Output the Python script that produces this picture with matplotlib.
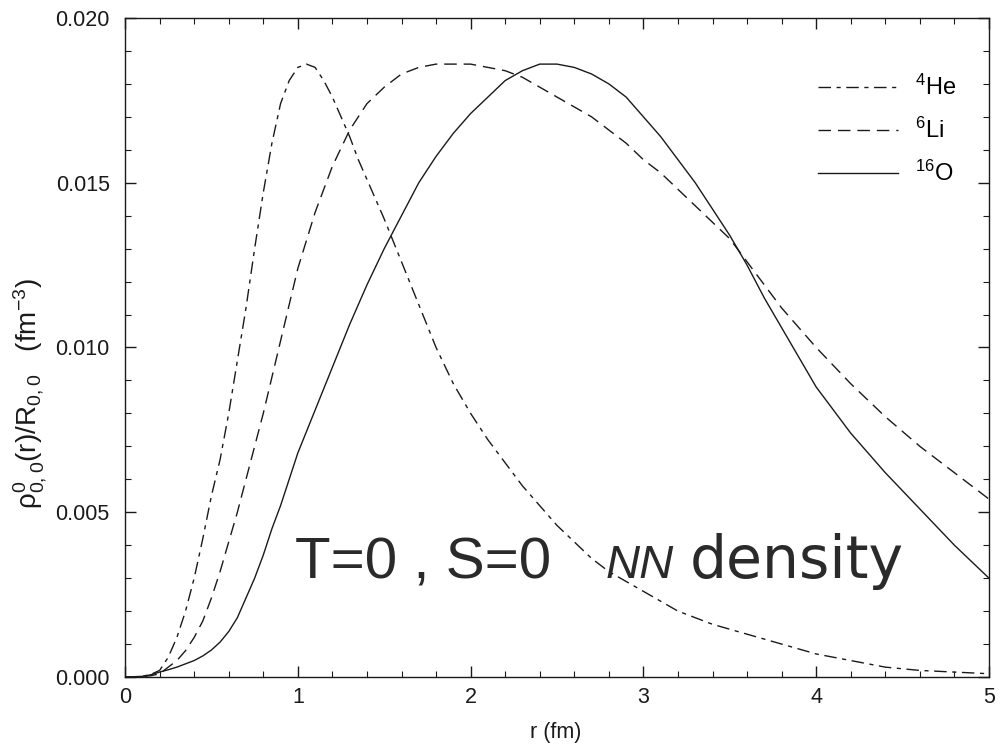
import matplotlib
matplotlib.use("Agg")
import matplotlib.pyplot as plt
from matplotlib.ticker import MultipleLocator, FormatStrFormatter

# 4He: radius (fm) and density (fm^-3)
r_he = [0.0, 0.05, 0.1, 0.15, 0.2, 0.25, 0.3, 0.35, 0.4, 0.45,
        0.5, 0.55, 0.6, 0.65, 0.7, 0.75, 0.8, 0.85, 0.9, 0.95,
        1.0, 1.05, 1.1, 1.15, 1.2, 1.25, 1.3, 1.35, 1.4, 1.45,
        1.5, 1.6, 1.7, 1.8, 1.9, 2.0, 2.1, 2.2, 2.3, 2.4,
        2.5, 2.6, 2.7, 2.8, 2.9, 3.0, 3.2, 3.4, 3.6, 3.8,
        4.0, 4.2, 4.4, 4.6, 4.8, 5.0]
he4 = [0.0, 0.0, 0.00002, 0.00008, 0.0002, 0.0006, 0.0012, 0.0020, 0.0030, 0.0042,
       0.0055, 0.0066, 0.0080, 0.0096, 0.0112, 0.0130, 0.0147, 0.0162, 0.0174, 0.0181,
       0.0185, 0.0186, 0.0185, 0.0181, 0.0176, 0.0170, 0.0164, 0.0157, 0.0151, 0.0145,
       0.0139, 0.0126, 0.0113, 0.0100, 0.0089, 0.0080, 0.0072, 0.0065, 0.0058, 0.0052,
       0.0046, 0.0041, 0.0036, 0.0032, 0.0029, 0.0026, 0.0020, 0.0016, 0.0013, 0.0010,
       0.0007, 0.0005, 0.0003, 0.0002, 0.00015, 0.0001]

# 6Li
r_li = [0.0, 0.1, 0.15, 0.2, 0.25, 0.3, 0.35, 0.4, 0.45, 0.5,
        0.55, 0.6, 0.65, 0.7, 0.75, 0.8, 0.85, 0.9, 0.95, 1.0,
        1.1, 1.2, 1.3, 1.4, 1.5, 1.6, 1.7, 1.8, 1.9, 2.0,
        2.1, 2.2, 2.3, 2.4, 2.5, 2.6, 2.7, 2.8, 2.9, 3.0,
        3.1, 3.2, 3.3, 3.4, 3.5, 3.6, 3.7, 3.8, 3.9, 4.0,
        4.2, 4.4, 4.6, 4.8, 5.0]
li6 = [0.0, 0.00001, 0.00004, 0.0001, 0.0003, 0.0005, 0.0008, 0.0012, 0.0017, 0.0024,
       0.0032, 0.0041, 0.0050, 0.0060, 0.0070, 0.0080, 0.0091, 0.0102, 0.0113, 0.0124,
       0.0141, 0.0155, 0.0166, 0.0174, 0.0179, 0.0183, 0.0185, 0.0186, 0.0186, 0.0186,
       0.0185, 0.0184, 0.0182, 0.0179, 0.0176, 0.0173, 0.0170, 0.0166, 0.0162, 0.0157,
       0.0153, 0.0148, 0.0143, 0.0138, 0.0133, 0.0126, 0.0119, 0.0112, 0.0106, 0.0100,
       0.0089, 0.0079, 0.0070, 0.0062, 0.0054]

# 16O
r_o = [0.0, 0.1, 0.15, 0.2, 0.25, 0.3, 0.35, 0.4, 0.45, 0.5,
       0.55, 0.6, 0.65, 0.7, 0.75, 0.8, 0.85, 0.9, 0.95, 1.0,
       1.1, 1.2, 1.3, 1.4, 1.5, 1.6, 1.7, 1.8, 1.9, 2.0,
       2.1, 2.2, 2.3, 2.4, 2.5, 2.6, 2.7, 2.8, 2.9, 3.0,
       3.1, 3.2, 3.3, 3.4, 3.5, 3.6, 3.7, 3.8, 3.9, 4.0,
       4.2, 4.4, 4.6, 4.8, 5.0]
o16 = [0.0, 0.00002, 0.00007, 0.00015, 0.00022, 0.0003, 0.0004, 0.0005, 0.00064, 0.00082,
       0.00106, 0.00138, 0.0018, 0.0024, 0.0030, 0.0037, 0.0045, 0.0052, 0.0060, 0.0068,
       0.0081, 0.0094, 0.0107, 0.0119, 0.0130, 0.0140, 0.0150, 0.0158, 0.0165, 0.0171,
       0.0176, 0.0181, 0.0184, 0.0186, 0.0186, 0.0185, 0.0183, 0.0180, 0.0176, 0.0170,
       0.0164, 0.0157, 0.0150, 0.0142, 0.0134, 0.0125, 0.0115, 0.0106, 0.0097, 0.0088,
       0.0074, 0.0062, 0.0051, 0.0040, 0.0030]

labels = [r'$^{4}$He', r'$^{6}$Li', r'$^{16}$O']

plt.rcParams['font.family'] = ['Liberation Sans', 'DejaVu Sans']
plt.rcParams['mathtext.default'] = 'regular'

fig = plt.figure(figsize=(10.02, 7.49), dpi=100)
ax = fig.add_axes([0.1248, 0.0961, 0.8622, 0.8799])

ink = '#1a1a1a'
ax.plot(r_he, he4, color=ink, lw=1.0, linestyle=(0, (9, 4, 3, 4)), label=labels[0])
ax.plot(r_li, li6, color=ink, lw=1.0, linestyle=(0, (9, 5)), label=labels[1])
ax.plot(r_o, o16, color=ink, lw=1.0, linestyle='-', label=labels[2])

ax.set_xlim(0, 5)
ax.set_ylim(0, 0.020)
ax.xaxis.set_major_locator(MultipleLocator(1))
ax.xaxis.set_minor_locator(MultipleLocator(0.2))
ax.yaxis.set_major_locator(MultipleLocator(0.005))
ax.yaxis.set_minor_locator(MultipleLocator(0.001))
ax.yaxis.set_major_formatter(FormatStrFormatter('%.3f'))
ax.tick_params(which='both', direction='in', top=True, right=True, colors=ink,
               labelsize=15.5)
ax.tick_params(which='major', length=8, width=1)
ax.tick_params(which='minor', length=4, width=0.8)
ax.tick_params(axis='x', pad=7)
ax.tick_params(axis='y', pad=11)
for s in ax.spines.values():
    s.set_color(ink)
    s.set_linewidth(1.0)

ax.set_xlabel('r (fm)', fontsize=15.5, color=ink)
ax.xaxis.set_label_coords(0.499, -0.068)
ax.set_ylabel(r'$\rho^{0}_{0,0}(r)/R_{0,0}$   (fm$^{-3}$)', fontsize=20, color=ink)
ax.yaxis.set_label_coords(-0.088, 0.43)

leg = ax.legend(loc='upper right', frameon=False, fontsize=17, handlelength=3.4,
                handletextpad=0.7, labelspacing=0.76, borderaxespad=0.0,
                bbox_to_anchor=(0.973, 0.928))

# handwritten note
note = '#2a2a2a'
ax.text(0.985, 0.0030, 'T=0 , S=0', fontsize=42, color=note)
ax.text(2.78, 0.0030, 'NN', fontsize=34, color=note, style='italic')
ax.text(3.27, 0.0030, 'density', fontsize=42, color=note, family='DejaVu Sans')

fig.savefig('out.png', dpi=100)
